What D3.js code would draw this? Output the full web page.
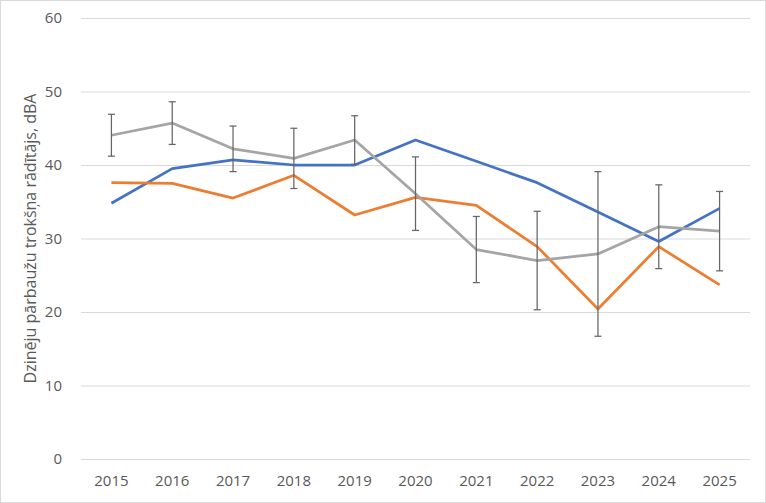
<!DOCTYPE html>
<html>
<head>
<meta charset="utf-8">
<script src="https://cdn.jsdelivr.net/npm/d3@7"></script>
<style>
    body { margin: 0; background: #fff; }
    #chart { width: 766px; height: 503px; }
    .tick text { font-family: "Open Sans", sans-serif; font-size: 15px; fill: #595959; }
</style>
</head>
<body>
<div id="chart"></div>
<script>
// Data
const years = ["2015", "2016", "2017", "2018", "2019", "2020", "2021", "2022", "2023", "2024", "2025"];
const blueValues = [34.8, 39.5, 40.7, 40.0, 40.0, 43.4, 40.5, 37.6, 33.6, 29.6, 34.1];
const orangeValues = [37.6, 37.5, 35.5, 38.6, 33.2, 35.6, 34.5, 28.9, 20.4, 28.9, 23.7];
const grayValues = [44.05, 45.7, 42.2, 40.9, 43.4, 36.1, 28.5, 27.0, 27.9, 31.6, 31.0];
const grayErrors = [2.85, 2.9, 3.1, 4.1, 3.3, 5.0, 4.5, 6.7, 11.2, 5.7, 5.4];
const yTicks = [0, 10, 20, 30, 40, 50, 60];

function createLineChart() {
    const container = d3.select("#chart");
    container.selectAll("*").remove();

    const W = 766, H = 503;
    const margin = { top: 18, right: 16, bottom: 44, left: 81 };
    const width = W - margin.left - margin.right;
    const height = H - margin.top - margin.bottom;

    const svg = container.append("svg")
        .attr("width", W)
        .attr("height", H);

    // outer chart border
    svg.append("rect")
        .attr("x", 0.5).attr("y", 0.5)
        .attr("width", W - 1).attr("height", H - 1)
        .attr("fill", "#fff")
        .attr("stroke", "#d9d9d9");

    const g = svg.append("g")
        .attr("transform", `translate(${margin.left},${margin.top})`);

    const xScale = d3.scaleBand()
        .domain(years)
        .range([0, width])
        .padding(0);

    const yScale = d3.scaleLinear()
        .domain([0, 60])
        .range([height, 0]);

    const xc = d => xScale(d) + xScale.bandwidth() / 2;

    // gridlines + y labels
    const yAxis = g.append("g")
        .call(d3.axisLeft(yScale).tickValues(yTicks).tickSize(-width).tickPadding(19));
    yAxis.select(".domain").remove();
    yAxis.selectAll(".tick line").attr("stroke", "#d9d9d9").attr("stroke-width", 1);

    // x labels
    const xAxis = g.append("g")
        .attr("transform", `translate(0,${height})`)
        .call(d3.axisBottom(xScale).tickSize(0).tickPadding(16));
    xAxis.select(".domain").remove();

    // y axis title
    g.append("text")
        .attr("transform", "rotate(-90)")
        .attr("x", -height / 2)
        .attr("y", -margin.left + 30)
        .attr("dy", "0.35em")
        .attr("text-anchor", "middle")
        .style("font-family", "'Open Sans', sans-serif")
        .style("font-size", "16px")
        .style("fill", "#595959")
        .text("Dzinēju pārbaužu trokšņa rādītājs, dBA");

    const line = d3.line()
        .x((d, i) => xc(years[i]))
        .y(d => yScale(d));

    const series = [
        { values: blueValues, color: "#4472C4" },
        { values: orangeValues, color: "#ED7D31" },
        { values: grayValues, color: "#A5A5A5" }
    ];

    series.forEach(s => {
        g.append("path")
            .datum(s.values)
            .attr("fill", "none")
            .attr("stroke", s.color)
            .attr("stroke-width", 2.75)
            .attr("stroke-linejoin", "round")
            .attr("d", line);
    });

    // error bars on the gray series
    const errs = g.append("g")
        .selectAll("g")
        .data(grayValues.map((v, i) => ({ year: years[i], v: v, e: grayErrors[i] })))
        .enter().append("g")
        .attr("stroke", "#666")
        .attr("stroke-width", 1.25);

    errs.append("line")
        .attr("x1", d => xc(d.year)).attr("x2", d => xc(d.year))
        .attr("y1", d => yScale(d.v + d.e)).attr("y2", d => yScale(d.v - d.e));
    errs.append("line")
        .attr("x1", d => xc(d.year) - 3.5).attr("x2", d => xc(d.year) + 3.5)
        .attr("y1", d => yScale(d.v + d.e)).attr("y2", d => yScale(d.v + d.e));
    errs.append("line")
        .attr("x1", d => xc(d.year) - 3.5).attr("x2", d => xc(d.year) + 3.5)
        .attr("y1", d => yScale(d.v - d.e)).attr("y2", d => yScale(d.v - d.e));
}

createLineChart();
</script>
</body>
</html>
